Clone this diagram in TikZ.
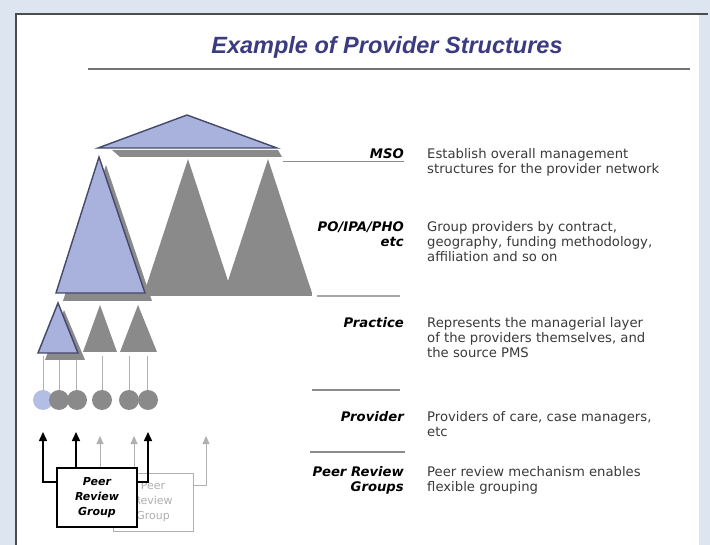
\documentclass[tikz,border=0pt]{standalone}
\usepackage{fontspec}
\setmainfont{DejaVu Sans}
\newfontfamily\titlefont{Liberation Sans}
\usetikzlibrary{arrows.meta}
\definecolor{bgblue}{HTML}{DCE5F0}
\definecolor{titleblue}{HTML}{3B3B80}
\definecolor{triblue}{HTML}{A8B2DC}
\definecolor{triedge}{HTML}{44486A}
\definecolor{shgray}{HTML}{8A8A8A}
\definecolor{txtgray}{HTML}{3A3A3A}
\definecolor{rulegray}{HTML}{8C8C8C}
\definecolor{lightgray}{HTML}{B0B0B0}
\definecolor{circblue}{HTML}{B4BDE3}
\tikzset{
  bluetri/.style={fill=triblue, draw=triedge, line width=1.4pt, line join=miter},
  graytri/.style={fill=shgray},
  lbl/.style={inner sep=0pt, align=right, text=black, font=\fontsize{13.2}{15}\selectfont\bfseries\itshape},
  desc/.style={inner sep=0pt, align=left, text=txtgray, font=\fontsize{13.2}{15}\selectfont},
  sepline/.style={draw=rulegray, line width=1.2pt},
  provcirc/.style={circle, minimum size=20pt, inner sep=0pt},
  blk/.style={draw=black, line width=1.5pt, -{Triangle[length=9pt,width=8pt]}},
  gry/.style={draw=lightgray, line width=1pt, -{Triangle[length=8pt,width=7pt]}},
  pbox/.style={draw=black, line width=1.5pt, fill=white, minimum width=80pt, minimum height=59pt, inner sep=0pt, align=center, font=\fontsize{11}{15}\selectfont\bfseries\itshape},
  gbox/.style={draw=lightgray, line width=1pt, fill=white, minimum width=80pt, minimum height=58pt, inner sep=0pt, align=center, text=lightgray, font=\fontsize{11}{15}\selectfont},
}
\begin{document}
\begin{tikzpicture}[x=1pt,y=-1pt]
\useasboundingbox (0,0) rectangle (710,545);
% background and slide
\fill[bgblue] (0,0) rectangle (710,545);
\fill[white] (16,14) rectangle (699,545);
\draw[line width=2.5pt, draw=black!70] (16,545) -- (16,14) -- (708,14);
% title
\node[font=\titlefont\fontsize{23.5}{28}\selectfont\bfseries\itshape, text=titleblue, inner sep=0pt] (title) at (387,47) {Example of Provider Structures};
\draw[line width=2.5pt, draw=black!55] (88,69) -- (690,69);

% MSO triangle with shadow
\fill[shgray] (112,150) -- (278,150) -- (282,157) -- (120,157) -- cycle;
\draw[bluetri] (187,115) -- (277,148) -- (98,148) -- cycle;

% PO level: gray triangles
\fill[graytri] (188,159) -- (232,293) -- (144,293) -- cycle;
\fill[graytri] (268,159) -- (312,293) -- (224,293) -- cycle;
\fill[graytri] (144,293) rectangle (312,296);
% blue PO triangle with shadow
\fill[shgray] (106,165) -- (152,301) -- (63,301) -- cycle;
\draw[bluetri] (99,157) -- (145,293) -- (56,293) -- cycle;

% practice level
\draw[draw=lightgray, line width=0.8pt] (43,356) -- (43,400) (59,356) -- (59,400) (76,356) -- (76,400)
  (102,356) -- (102,400) (129,356) -- (129,400) (147,356) -- (147,400);
\fill[graytri] (100,305) -- (117,352) -- (83,352) -- cycle;
\fill[graytri] (138,305) -- (157,352) -- (120,352) -- cycle;
\fill[shgray] (64,310) -- (85,360) -- (45,360) -- cycle;
\draw[bluetri] (58,303) -- (78,353) -- (38,353) -- cycle;

% providers
\node[provcirc, fill=circblue] (c1) at (43,400) {};
\node[provcirc, fill=shgray] (c2) at (59,400) {};
\node[provcirc, fill=shgray] (c3) at (77,400) {};
\node[provcirc, fill=shgray] (c4) at (102,400) {};
\node[provcirc, fill=shgray] (c5) at (129,400) {};
\node[provcirc, fill=shgray] (c6) at (148,400) {};

% peer review groups
\coordinate (a1) at (43,432);
\coordinate (a2) at (76,432);
\coordinate (a3) at (148,432);
\coordinate (g1) at (100,436);
\coordinate (g2) at (134,436);
\coordinate (g3) at (206,436);
\node[gbox] (grp2) at (153,502) {Peer\\Review\\Group};
\draw[gry] ([yshift=17pt]grp2.east) -| (g3);
\draw[gry] (100,468) -- (g1);
\draw[gry] (134,468) -- (g2);
\node[pbox] (grp1) at (97,497.5) {Peer\\Review\\Group};
\draw[blk] ([yshift=15.5pt]grp1.west) -| (a1);
\draw[blk] (grp1.north -| a2) -- (a2);
\draw[blk] ([yshift=15.5pt]grp1.east) -| (a3);

% separator lines
\draw[draw=rulegray, line width=0.9pt] (283,161) -- (404,161);
\draw[draw=black!35, line width=2.2pt] (317,296) -- (400,296);
\draw[sepline] (312,390) -- (400,390);
\draw[sepline] (310,452) -- (405,452);

% labels and descriptions
\node[lbl, anchor=north east] (lmso) at (404,148) {\strut MSO};
\node[desc, anchor=north west] (dmso) at (427,148) {\strut Establish overall management\\structures for the provider network};
\node[lbl, anchor=north east] (lpo) at (404,221) {\strut PO/IPA/PHO\\etc};
\node[desc, anchor=north west] (dpo) at (427,221) {\strut Group providers by contract,\\geography, funding methodology,\\affiliation and so on};
\node[lbl, anchor=north east] (lpr) at (404,317) {\strut Practice};
\node[desc, anchor=north west] (dpr) at (427,317) {\strut Represents the managerial layer\\of the providers themselves, and\\the source PMS};
\node[lbl, anchor=north east] (lpv) at (404,411) {\strut Provider};
\node[desc, anchor=north west] (dpv) at (427,411) {\strut Providers of care, case managers,\\etc};
\node[lbl, anchor=north east] (lpg) at (404,466) {\strut Peer Review\\Groups};
\node[desc, anchor=north west] (dpg) at (427,466) {\strut Peer review mechanism enables\\flexible grouping};
\end{tikzpicture}
\end{document}
